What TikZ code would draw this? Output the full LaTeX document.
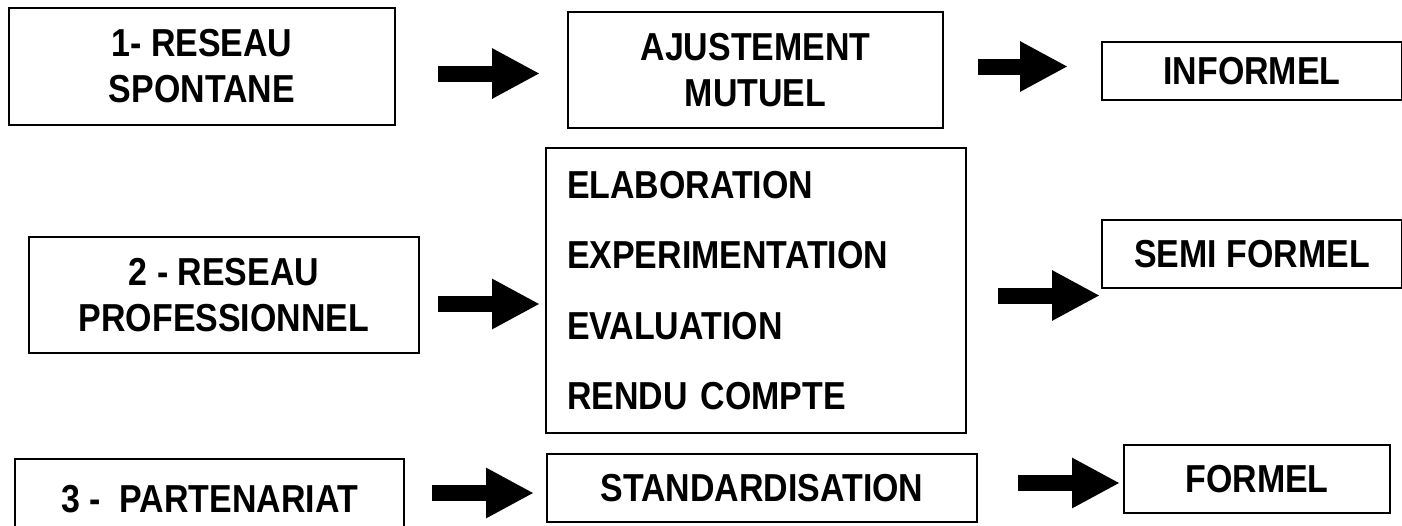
\documentclass[tikz,border=0pt]{standalone}
\usepackage{fontspec}
\newfontfamily\lblfont[FakeStretch=0.87]{Liberation Sans}
\usetikzlibrary{arrows.meta}

\tikzset{
  box/.style={draw, line width=1.6pt, inner sep=0pt, align=center,
    font=\lblfont\bfseries\fontsize{39}{46}\selectfont},
  bigarrow/.style={line width=16pt, -{Triangle[length=48pt, width=47pt]}},
}

\begin{document}
\begin{tikzpicture}[x=1pt, y=-1pt]
\clip (0,0) rectangle (1402,525);
\fill[white] (0,0) rectangle (1402,525);

% ROW 1: spontaneous network
\node[box, minimum width=386pt, minimum height=117pt] (res1) at (202,66.5) {1- RESEAU\\SPONTANE};
\node[box, minimum width=375pt, minimum height=116pt] (ajust) at (755.5,70) {AJUSTEMENT\\MUTUEL};
\node[box, minimum width=300pt, minimum height=58pt] (inf) at (1252,71) {INFORMEL};

% ROW 2: professional network
\node[box, minimum width=390pt, minimum height=116pt] (res2) at (224,295) {2 - RESEAU\\PROFESSIONNEL};
\node[box, minimum width=420pt, minimum height=285pt, align=left, text width=378pt,
  font=\lblfont\bfseries\fontsize{39}{70.5}\selectfont] (steps) at (756,290.5)
  {ELABORATION\\EXPERIMENTATION\\EVALUATION\\RENDU COMPTE};
\node[box, minimum width=300pt, minimum height=68pt] (semi) at (1252,254) {SEMI FORMEL};

% ROW 3: partnership
\node[box, minimum width=389pt, minimum height=80pt] (part) at (209.5,499) {3 -\ \ PARTENARIAT};
\node[box, minimum width=430pt, minimum height=68pt] (std) at (762,488) {STANDARDISATION};
\node[box, minimum width=266pt, minimum height=68pt] (form) at (1257,479) {FORMEL};

% arrows between the columns
\coordinate (a1s) at (438,73.5);  \coordinate (a1e) at (540,73.5);
\coordinate (a2s) at (978,66.5);  \coordinate (a2e) at (1068,66.5);
\coordinate (a3s) at (438,304);   \coordinate (a3e) at (540,304);
\coordinate (a4s) at (998,295.5); \coordinate (a4e) at (1100,295.5);
\coordinate (a5s) at (432,493);   \coordinate (a5e) at (534,493);
\coordinate (a6s) at (1018,483);  \coordinate (a6e) at (1120,483);
\foreach \a in {a1, a2, a3, a4, a5, a6}{
  \draw[bigarrow] (\a s) -- (\a e);
}
\end{tikzpicture}
\end{document}
